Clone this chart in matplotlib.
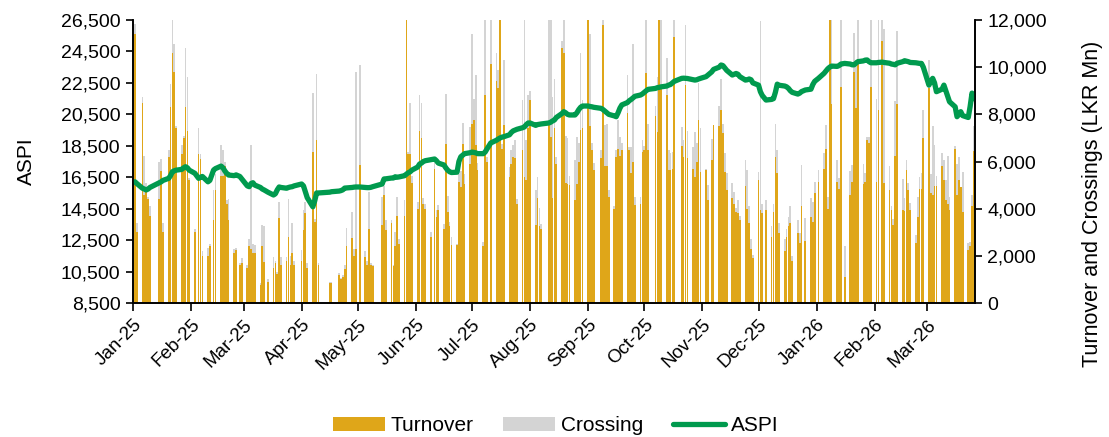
import pandas as pd
import matplotlib.pyplot as plt
import matplotlib.dates as mdates
from matplotlib.ticker import FuncFormatter, MultipleLocator

# --- data (LKR Mn for turnover / crossing, index points for ASPI) ---

holidays = ['2025-01-13', '2025-01-14', '2025-02-04', '2025-02-12', '2025-02-26',
            '2025-03-13', '2025-03-31', '2025-04-11', '2025-04-14', '2025-04-15',
            '2025-04-18', '2025-05-01', '2025-05-12', '2025-05-13', '2025-06-10',
            '2025-07-10', '2025-08-08', '2025-09-05', '2025-10-06', '2025-10-20',
            '2025-11-05', '2025-12-04', '2025-12-25', '2026-01-01', '2026-01-15',
            '2026-02-04']

turnover = [
    # Jan-25
    11400, 3000, 8500, 4600, 4800, 4400, 3700, 4400, 5600, 3000,
    6200, 8300, 10600, 9800, 7400, 6300, 7000, 8300, 7300, 5200,
    # Feb-25
    3000, 6300, 6100, 2000, 2000, 2400, 3500, 4800, 5400, 5400,
    5800, 4200, 3500, 2100, 2250, 1600, 1700,
    # Mar-25
    1500, 2400, 2300, 2100, 2100, 760, 2400, 1750, 900, 1500,
    1700, 1250, 3600, 1600, 1800, 2800, 1600, 2100, 1600,
    # Apr-25
    1800, 3100, 3800, 1500, 6400, 3450, 6900, 1600, 850, 830,
    1200, 1000, 1100, 1450, 2400, 2750, 2000, 2300,
    # May-25
    5850, 1950, 1600, 3150, 1600, 1550, 3300, 4600, 3100, 3400,
    1550, 2400, 3700, 2500, 3700, 12500, 6300, 6300, 5100,
    # Jun-25
    4000, 7300, 7000, 4200, 4000, 2800, 5700, 3650, 3950, 3150,
    6750, 3850, 3250, 2450, 2450, 5150, 4900, 6750, 5050, 5900,
    # Jul-25
    7600, 7750, 6700, 5650, 2400, 8800, 6000, 10150, 9400, 9100,
    12500, 6550, 7550, 5350, 5900, 6200, 6150, 4200, 6500, 5350,
    5200, 7400,
    # Aug-25
    8600, 3300, 4450, 3250, 3150, 7550, 7050, 4450, 7400, 5900,
    10800, 10600, 5100, 5050, 5000, 4350, 5050, 6000, 7350, 7400,
    # Sep-25
    12500, 7500, 6500, 5650, 6150, 11800, 5800, 5800, 4500, 4000,
    6200, 6550, 6250, 6500, 8050, 6500, 5500, 6000, 4150, 4200,
    6400,
    # Oct-25
    6500, 9750, 6500, 7950, 7250, 12500, 9100, 8800, 5650, 5650,
    5700, 11300, 6650, 6200, 9250, 6150, 5700, 5350, 6000, 7750,
    5550,
    # Nov-25
    5650, 4350, 6050, 7550, 7500, 8200, 7200, 5550, 4800, 4450,
    4200, 3850, 3800, 3500, 4950, 4000, 3400, 2300, 1900,
    # Dec-25
    5200, 3950, 3800, 3950, 2800, 3850, 6200, 5500, 2950, 2200,
    2800, 3250, 3400, 1800, 2950, 2550, 4100, 2650, 3650, 3450,
    4650,
    # Jan-26
    5150, 5700, 6550, 4000, 12500, 8450, 5150, 4850, 9150, 1100,
    4600, 5150, 9800, 8250, 10350, 5050, 5150, 6900, 6800, 9150,
    # Feb-26
    5150, 8200, 11100, 5100, 4800, 3950, 3300, 6250, 8450, 3950,
    3900, 5650, 4800, 3950, 2550, 3650, 4850, 4850, 7000,
    # Mar-26
    9100, 4650, 4600, 4950, 4950, 5800, 5200, 4350, 4200, 3950,
    6550, 4600, 5200, 4900, 3850, 2250, 2400, 4100, 6450,
]

crossing = [
    # Jan-25
    450, 400, 250, 1650, 300, 100, 400, 1600, 500, 400,
    300, 1000, 1600, 1200, 100, 400, 100, 2500, 2300, 100,
    # Feb-25
    150, 1100, 200, 200, 350, 100, 1300, 650, 1300, 1100,
    200, 150, 900, 200, 100, 100, 200,
    # Mar-25
    100, 300, 4400, 400, 350, 80, 900, 1500, 100, 450,
    100, 80, 700, 350, 150, 1600, 400, 1300, 200,
    # Apr-25
    450, 850, 500, 200, 2500, 100, 2800, 100, 50, 50,
    80, 50, 80, 150, 800, 1100, 300, 7500,
    # May-25
    4250, 250, 200, 1550, 100, 50, 1200, 350, 400, 100,
    50, 600, 800, 200, 650, 0, 100, 2200, 300,
    # Jun-25
    300, 1500, 1500, 250, 200, 200, 250, 300, 200, 200,
    2100, 700, 200, 350, 50, 300, 700, 900, 400, 1550,
    # Jul-25
    3800, 900, 2950, 300, 200, 3500, 200, 2000, 1200, 800,
    0, 200, 2750, 400, 600, 500, 750, 200, 2100, 6800,
    1700, 1400,
    # Aug-25
    400, 1500, 900, 800, 200, 4500, 5000, 4300, 2100, 300,
    300, 1400, 2000, 1950, 400, 1700, 2000, 800, 3250, 1200,
    # Sep-25
    0, 3900, 300, 300, 350, 300, 1750, 1800, 300, 100,
    300, 1200, 800, 300, 1600, 100, 1100, 5000, 350, 300,
    500,
    # Oct-25
    150, 2500, 1100, 400, 2350, 0, 2900, 1600, 850, 700,
    700, 900, 800, 700, 2550, 1150, 900, 1900, 800, 1600,
    1850,
    # Nov-25
    50, 650, 900, 0, 850, 1300, 400, 800, 700, 650,
    500, 200, 550, 200, 1100, 1650, 700, 400, 150,
    # Dec-25
    350, 8000, 400, 400, 450, 350, 1400, 1000, 450, 500,
    350, 400, 700, 200, 550, 400, 1750, 950, 800, 850,
    500,
    # Jan-26
    500, 650, 1000, 500, 0, 3550, 900, 450, 2850, 1300,
    1000, 700, 1650, 2050, 1650, 850, 350, 150, 250, 2850,
    # Feb-26
    3500, 3800, 900, 6500, 1000, 150, 250, 2300, 3100, 1300,
    550, 400, 300, 300, 350, 850, 500, 650, 1200,
    # Mar-26
    1200, 800, 2900, 1750, 450, 550, 850, 850, 2050, 550,
    100, 1300, 1000, 0, 1700, 300, 200, 500, 1050,
]

aspi = [
    # Jan-25
    16210, 16100, 15800, 15750, 15690, 15750, 15850, 16150, 16210, 16300,
    16430, 16600, 16850, 16910, 16950, 17000, 17100, 17170, 17100, 16950,
    # Feb-25
    16750, 16430, 16500, 16550, 16210, 16300, 16960, 17050, 17210, 17100,
    16900, 16750, 16640, 16600, 16650, 16550, 16400,
    # Mar-25
    15950, 15900, 16100, 16150, 16000, 15850, 15750, 15690, 15550, 15370,
    15450, 15700, 15880, 15850, 15800, 15850, 15880, 15900, 15950,
    # Apr-25
    16070, 15950, 15580, 15200, 14620, 15000, 15500, 15500, 15550, 15580,
    15620, 15650, 15700, 15810, 15820, 15850, 15870, 15880,
    # May-25
    15880, 15850, 15840, 15840, 15860, 15900, 16070, 16390, 16400, 16450,
    16450, 16530, 16500, 16520, 16600, 16700, 16790, 16850, 16960,
    # Jun-25
    17150, 17340, 17400, 17500, 17550, 17620, 17660, 17550, 17400, 17280,
    17100, 16950, 16850, 16800, 16820, 17500, 17800, 17900, 18000, 18060,
    # Jul-25
    18100, 18080, 18050, 18000, 18000, 18100, 18300, 18680, 18850, 18930,
    19000, 19050, 19080, 19200, 19350, 19450, 19500, 19550, 19650, 19700,
    19850, 19950,
    # Aug-25
    19950, 19800, 19850, 19870, 19890, 19950, 20000, 20080, 20140, 20300,
    20550, 20670, 20600, 20500, 20460, 20460, 20600, 20800, 20950, 21030,
    # Sep-25
    21030, 21000, 20980, 20950, 20880, 20800, 20700, 20600, 20500, 20400,
    20350, 20600, 20900, 21100, 21250, 21370, 21450, 21550, 21650, 21730,
    21800,
    # Oct-25
    21900, 22000, 22090, 22150, 22200, 22220, 22250, 22300, 22360, 22400,
    22500, 22600, 22790, 22800, 22790, 22780, 22700, 22680, 22700, 22750,
    22790,
    # Nov-25
    22900, 23000, 23200, 23360, 23500, 23640, 23600, 23450, 23300, 23000,
    23050, 23100, 23050, 22900, 22680, 22700, 22750, 22700, 22500,
    # Dec-25
    22360, 21940, 21700, 21410, 21450, 21500, 21900, 22420, 22350, 22300,
    22250, 22150, 22000, 21900, 21790, 21850, 21950, 22050, 22100, 22400,
    22600,
    # Jan-26
    22790, 23110, 23250, 23400, 23500, 23570, 23550, 23600, 23700, 23740,
    23700, 23650, 23650, 23750, 23850, 23900, 23950, 23960, 23850, 23780,
    # Feb-26
    23780, 23800, 23820, 23800, 23750, 23700, 23680, 23650, 23750, 23850,
    23910, 23880, 23850, 23800, 23780, 23760, 23740, 23740, 23500,
    # Mar-26
    22360, 22600, 22790, 22500, 21940, 22100, 22360, 22000, 21620, 21300,
    20980, 20350, 20500, 20670, 20420, 20300, 21000, 21850, 21500,
]

# trading days = weekdays minus market holidays
dates = pd.bdate_range('2025-01-02', '2026-03-26')
dates = dates[~dates.isin(pd.to_datetime(holidays))]

# --- plot ---
plt.rcParams['font.family'] = ['Liberation Sans', 'DejaVu Sans']

ORANGE = '#DFA619'
GREY = '#D4D4D4'
GREEN = '#009A4E'

fig = plt.figure(figsize=(11.09, 4.37), dpi=100)
ax = fig.add_axes([0.12, 0.3066, 0.759, 0.6476])   # bars, right-hand scale
ax2 = ax.twinx()                                    # ASPI line, left-hand scale

ax.bar(dates, turnover, width=0.92, color=ORANGE, linewidth=0, label='Turnover', zorder=2)
ax.bar(dates, crossing, width=0.92, bottom=turnover, color=GREY, linewidth=0,
       label='Crossing', zorder=2)
ax2.plot(dates, aspi, color=GREEN, linewidth=3.8, label='ASPI', solid_capstyle='round')

# swap sides: bars, ASPI off the left
ax.yaxis.tick_right()
ax.yaxis.set_label_position('right')
ax2.yaxis.tick_left()
ax2.yaxis.set_label_position('left')

ax.set_ylim(0, 12000)
ax.yaxis.set_major_locator(MultipleLocator(2000))
ax2.set_ylim(8500, 26500)
ax2.set_yticks(range(8500, 26501, 2000))
fmt = FuncFormatter(lambda v, p: f'{int(v):,}')
ax.yaxis.set_major_formatter(fmt)
ax2.yaxis.set_major_formatter(fmt)

ax.set_xlim(pd.Timestamp('2025-01-01'), pd.Timestamp('2026-03-26 12:00'))
ax.xaxis.set_major_locator(mdates.MonthLocator())
ax.xaxis.set_major_formatter(mdates.DateFormatter('%b-%y'))

for a in (ax, ax2):
    a.spines['top'].set_visible(False)
    for s in ('left', 'right', 'bottom'):
        a.spines[s].set_color('black')
        a.spines[s].set_linewidth(1.2)
    a.tick_params(axis='y', labelsize=14, length=5, width=1.2, direction='out', pad=4)
ax.tick_params(axis='x', labelsize=13.5, length=6, width=1.2, direction='out')
plt.setp(ax.get_xticklabels(), rotation=45, ha='right', rotation_mode='anchor')

ax2.set_ylabel('ASPI', fontsize=15, va='center')
ax2.yaxis.set_label_coords(-0.127, 0.5)
ax.set_ylabel('Turnover and Crossings (LKR Mn)', fontsize=15.5, va='center')
ax.yaxis.set_label_coords(1.14, 0.35)

handles = ax.get_legend_handles_labels()[0] + ax2.get_legend_handles_labels()[0]
labels = ['Turnover', 'Crossing', 'ASPI']
fig.legend(handles, labels, loc='center', bbox_to_anchor=(0.501, 0.026), ncol=3,
           frameon=False, fontsize=15, handlelength=2.5, handleheight=0.65,
           handletextpad=0.3, columnspacing=1.4)

fig.savefig('out.png', dpi=100)
